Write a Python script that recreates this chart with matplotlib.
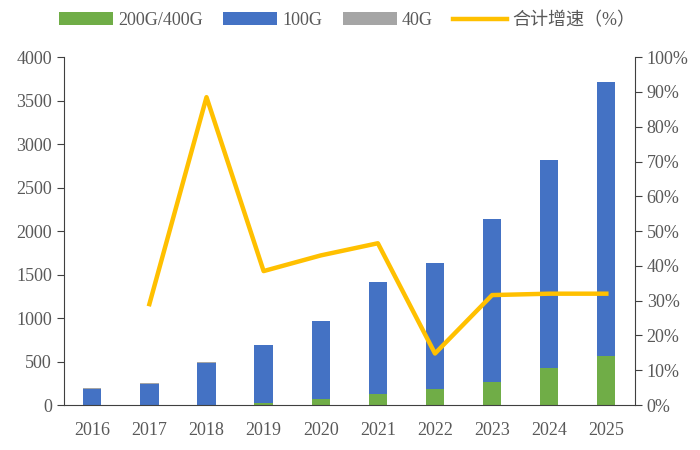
import matplotlib
matplotlib.use("Agg")
import matplotlib.pyplot as plt
from matplotlib.ticker import FuncFormatter

plt.rcParams['font.family'] = ['Liberation Serif', 'Noto Sans CJK SC']

# --- DATA ---
years = ['2016', '2017', '2018', '2019', '2020', '2021', '2022', '2023', '2024', '2025']
g200_400 = [0, 0, 0, 25, 70, 130, 182, 263, 421, 565]
g100 = [185, 245, 485, 660, 895, 1290, 1448, 1871, 2395, 3151]
g40 = [12, 10, 8, 5, 5, 0, 0, 0, 0, 0]
growth = [None, 29.0, 88.5, 38.5, 43.0, 46.5, 14.8, 31.6, 32.0, 32.0]

BLUE = '#4472C4'
GREEN = '#70AD47'
GRAY = '#A5A5A5'
GOLD = '#FFC000'
TXT = '#595959'

fig = plt.figure(figsize=(7, 4.5), dpi=100)
ax = fig.add_axes([0.091, 0.1, 0.816, 0.773])
x = list(range(len(years)))
w = 0.32

b1 = ax.bar(x, g200_400, w, color=GREEN, label='200G/400G')
b2 = ax.bar(x, g100, w, bottom=g200_400, color=BLUE, label='100G')
bottom3 = [a + b for a, b in zip(g200_400, g100)]
b3 = ax.bar(x, g40, w, bottom=bottom3, color=GRAY, label='40G')

ax.set_ylim(0, 4000)
ax.set_yticks(range(0, 4001, 500))
ax.set_xlim(-0.5, len(years) - 0.5)
ax.set_xticks(x)
ax.set_xticklabels(years)
ax.spines['top'].set_visible(False)
ax.spines['right'].set_visible(False)
for s in ['left', 'bottom']:
    ax.spines[s].set_color('#404040')
ax.tick_params(axis='x', length=0, pad=12, labelsize=13, colors=TXT)
ax.tick_params(axis='y', length=5, labelsize=13, colors=TXT, color='#404040')

ax2 = ax.twinx()
gx = [i for i, v in zip(x, growth) if v is not None]
gy = [v for v in growth if v is not None]
l1, = ax2.plot(gx, gy, color=GOLD, lw=3.2, label='合计增速（%）')
ax2.set_ylim(0, 100)
ax2.set_yticks(range(0, 101, 10))
ax2.yaxis.set_major_formatter(FuncFormatter(lambda v, p: f'{int(v)}%'))
for s in ['top', 'left', 'bottom']:
    ax2.spines[s].set_visible(False)
ax2.spines['right'].set_color('#404040')
ax2.tick_params(axis='y', length=5, labelsize=13, colors=TXT, color='#404040')

fig.legend(handles=[b1, b2, b3, l1], loc='center', bbox_to_anchor=(0.496, 0.955),
           ncol=4, frameon=False, fontsize=13, handlelength=3.0, columnspacing=1.1,
           handletextpad=0.3, labelcolor=TXT)

fig.savefig('out.png', dpi=100)
